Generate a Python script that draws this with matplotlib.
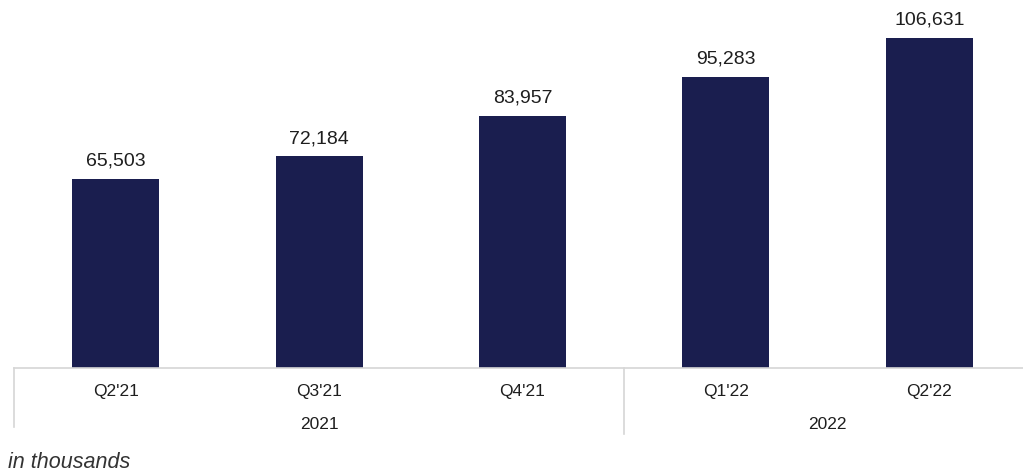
import matplotlib.pyplot as plt
import matplotlib.transforms as mtransforms

quarters = ["Q2'21", "Q3'21", "Q4'21", "Q1'22", "Q2'22"]
values = [65503, 72184, 83957, 95283, 106631]
years = ["2021", "2022"]
year_pos = [1, 3.5]       # centre of each year group
year_edges = [-0.5, 2.5]  # separators drawn below the axis

bar_color = "#1a1e4f"
text_color = "#1e1e1e"
line_color = "#d6d6d6"

plt.rcParams["font.family"] = ["Liberation Sans", "DejaVu Sans"]

W, H = 1023, 475
fig = plt.figure(figsize=(W / 100, H / 100), dpi=100)
base = 368
slot = 203.4
ax = fig.add_axes([14 / W, (H - base) / H, 5 * slot / W, base / H])

x = range(len(quarters))
bars = ax.bar(x, values, width=0.428, color=bar_color, zorder=2)
ax.set_xlim(-0.5, 4.5)
ax.set_ylim(10400, 117750)

for rect, v in zip(bars, values):
    ax.annotate(f"{v:,}", (rect.get_x() + rect.get_width() / 2, v),
                xytext=(0, 9.5), textcoords="offset points",
                ha="center", va="baseline", fontsize=14, color=text_color)

for s in ["top", "right", "left"]:
    ax.spines[s].set_visible(False)
ax.spines["bottom"].set_color(line_color)
ax.spines["bottom"].set_linewidth(1.2)
ax.set_yticks([])
ax.set_xticks([])

trans = mtransforms.blended_transform_factory(ax.transData, ax.transAxes)
for i, q in enumerate(quarters):
    ax.text(i, -23.5 / base, q, transform=trans, ha="center", va="center",
            fontsize=12.5, color=text_color)
for p, y in zip(year_pos, years):
    ax.text(p, -56.5 / base, y, transform=trans, ha="center", va="center",
            fontsize=12.5, color=text_color)

# group separators
ax.plot([year_edges[0]] * 2, [0, -59 / base], transform=trans, clip_on=False,
        color=line_color, lw=1.2)
ax.plot([year_edges[1]] * 2, [0, -66 / base], transform=trans, clip_on=False,
        color=line_color, lw=1.2)

fig.text(8 / W, 1 - 462 / H, "in thousands", ha="left", va="center",
         fontsize=15.5, style="italic", color="#333333")

fig.savefig("out.png", dpi=100)
